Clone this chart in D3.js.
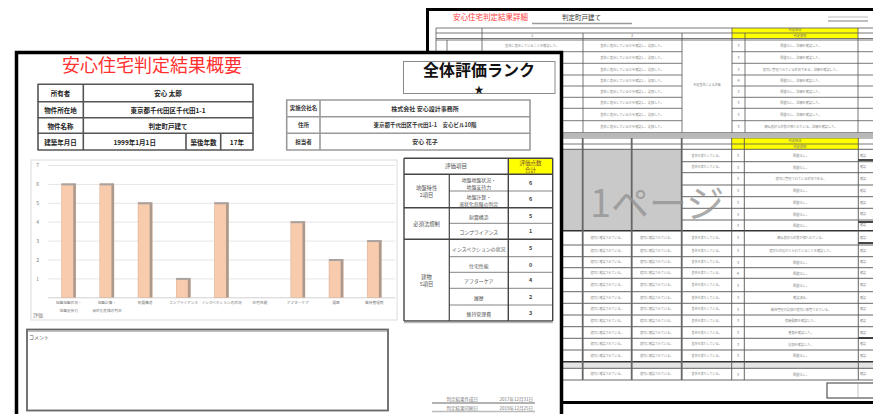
<!DOCTYPE html>
<html><head><meta charset="utf-8">
<script src="https://cdn.jsdelivr.net/npm/d3@7"></script>
<style>
html,body{margin:0;padding:0;background:#fff;}
svg{display:block;font-family:"Noto Sans CJK JP","Noto Sans",sans-serif;}
</style></head><body>
<svg id="c" width="873" height="414"></svg>
<script>
// ---------------- data ----------------
const title = "安心住宅判定結果概要";
const rankTitle = "全体評価ランク";
const rankValue = "★";
const categories = ["地盤地盤状況・\n地盤支持力", "地盤計算・\n液状化危険の判定", "耐震構造", "コンプライアンス", "インスペクションの状況", "住宅性能", "アフターケア", "履歴", "維持管理費"];
const values = [6, 6, 5, 1, 5, 0, 4, 2, 3];
const yTicks = [0, 1, 2, 3, 4, 5, 6, 7];
const yTickLabels = ["", "1", "2", "3", "4", "5", "6", "7"];
const axisTitle = "評価";
const groupNames = ["地盤特性\n2項目", "必須法規制", "建物\n5項目"];
const groupSizes = [2, 2, 5];
const tableHeader = "評価項目";
const scoreHeader = "評価点数\n合計";
const ownerLabels = ["所有者", "物件所在地", "物件名称", "建築年月日"];
const ownerValues = ["安心 太郎", "東京都千代田区千代田1-1", "判定町戸建て", "1999年1月1日"];
const ageLabel = "築後年数";
const ageValue = "17年";
const companyLabels = ["実施会社名", "住所", "担当者"];
const companyValues = ["株式会社 安心設計事務所", "東京都千代田区千代田1-1　安心ビル10階", "安心 花子"];
const commentLabel = "コメント";
const dateLabels = ["判定結果作成日", "判定結果印刷日"];
const dateValues = ["2017年12月31日", "2019年12月25日"];
const detailTitle = "安心住宅判定結果詳細";
const detailSub = "判定町戸建て";
const watermark = "1ページ";
const detailScores = [3, 3, 3, 4, 3, 3, 3, 3];
const detailScores2 = [3, 3, 3, 3, 3, 3, 3, 3, 3, 3, 4, 3, 3, 3, 3, 3, 3];
const detailNotes = ["問題なし。", "問題なし。", "適切に管理されている状況である。", "問題なし。", "問題なし。", "問題なし。", "問題なし。",
  "概ね良好な状態が保たれている。", "適切な対応がとられていることを確認した。", "問題なし。", "問題なし。", "問題なし。", "確認済み。",
  "維持管理の記録が適切に保管されている。", "修繕履歴を確認した。", "書類を確認した。", "記録を確認した。"];

// ---------------- drawing ----------------
const svg = d3.select("#c");
const F = "Noto Sans CJK JP";

function multiText(g, str, x, y, size, lh, attrs) {
  const lines = str.split("\n");
  const t = g.append("text").attr("x", x).attr("y", y - (lines.length - 1) * lh / 2)
    .attr("font-size", size).attr("text-anchor", "middle").attr("dominant-baseline", "central");
  Object.entries(attrs || {}).forEach(([k, v]) => t.attr(k, v));
  lines.forEach((l, i) => t.append("tspan").attr("x", x).attr("dy", i === 0 ? 0 : lh).text(l));
  return t;
}
function line(g, x1, y1, x2, y2, c, w) {
  g.append("line").attr("x1", x1).attr("y1", y1).attr("x2", x2).attr("y2", y2).attr("stroke", c).attr("stroke-width", w);
}

// ===== back document =====
const back = svg.append("g");
back.append("rect").attr("x", 427.5).attr("y", 9.5).attr("width", 470).attr("height", 393).attr("fill", "#fff").attr("stroke", "#000").attr("stroke-width", 3);
back.append("text").attr("x", 453).attr("y", 20).attr("font-size", 7.5).attr("fill", "#ff3b3b").text(detailTitle);
back.append("text").attr("x", 562).attr("y", 20).attr("font-size", 6.5).attr("fill", "#333").text(detailSub);
line(back, 532, 23.5, 632, 23.5, "#9a9a9a", 1.5);
line(back, 828, 17, 868, 17, "#aaa", 0.8);
line(back, 828, 21, 868, 21, "#aaa", 1.5);

// upper table
const UC = [436, 447, 482, 583, 682, 732, 745, 858, 880];
const UR = [40, 51.7, 63.3, 75, 86, 97.3, 108.3, 120.7, 132.7];
back.append("rect").attr("x", 732).attr("y", 28).attr("width", 126).attr("height", 10.5).attr("fill", "#ffff00");
[28, 33, 38.5].forEach(y => line(back, 436, y, 880, y, "#555", 0.8));
UR.forEach((y, i) => {
  line(back, 436, y, 682, y, "#555", 0.8);
  line(back, 732, y, 880, y, "#555", 0.8);
});
line(back, 682, 40, 732, 40, "#555", 0.8);
line(back, 682, 132.7, 732, 132.7, "#555", 0.8);
UC.forEach((x, i) => {
  if (i === 1) { line(back, x, 40, x, 132.7, "#555", 0.8); return; }
  line(back, x, i === 0 || i === 2 || i === 5 || i === 7 ? 28 : 33, x, 132.7, "#555", 0.8);
});
back.append("rect").attr("x", 436).attr("y", 133).attr("width", 444).attr("height", 4).attr("fill", "#b8b8b8");
back.append("text").attr("x", 532).attr("y", 36.5).attr("font-size", 4).attr("fill", "#777").attr("text-anchor", "middle").text("1");
back.append("text").attr("x", 632).attr("y", 36.5).attr("font-size", 4).attr("fill", "#777").attr("text-anchor", "middle").text("2");
back.append("text").attr("x", 795).attr("y", 31).attr("font-size", 3.3).attr("fill", "#777").attr("text-anchor", "middle").text("判定結果");
back.append("text").attr("x", 800).attr("y", 36.5).attr("font-size", 3.3).attr("fill", "#777").attr("text-anchor", "middle").text("判定根拠");
for (let i = 0; i < UR.length - 1; i++) {
  const cy = (UR[i] + UR[i + 1]) / 2;
  back.append("text").attr("x", 738.5).attr("y", cy).attr("font-size", 3.5).attr("fill", "#666").attr("text-anchor", "middle").attr("dominant-baseline", "central").text(detailScores[i]);
  back.append("text").attr("x", 801).attr("y", cy).attr("font-size", 3.2).attr("fill", "#888").attr("text-anchor", "middle").attr("dominant-baseline", "central").text(detailNotes[i] + "詳細を確認した。");
  back.append("text").attr("x", 632).attr("y", cy).attr("font-size", 3.2).attr("fill", "#888").attr("text-anchor", "middle").attr("dominant-baseline", "central").text("基準に適合しているかを確認し、記録した。");
  if (i === 0) {
    back.append("text").attr("x", 532).attr("y", cy).attr("font-size", 3.2).attr("fill", "#888").attr("text-anchor", "middle").attr("dominant-baseline", "central").text("基準に適合していることを確認した。");
  }
}
back.append("text").attr("x", 707).attr("y", 86).attr("font-size", 3).attr("fill", "#888").attr("text-anchor", "middle").text("判定基準による評価");

// lower table
const LC = [436, 520, 582.7, 631.7, 681.7, 731.7, 744.3, 858.3, 880];
const LR = [149.3, 161.7, 172.7, 185, 196.7, 208.3, 220, 230.7, 245, 256.7, 267.7, 278.3, 291.7, 303.3, 315, 326.7, 338.3, 350, 361.7, 368.3, 380];
back.append("rect").attr("x", 731.7).attr("y", 138).attr("width", 126.6).attr("height", 11.3).attr("fill", "#ffff00");
back.append("rect").attr("x", 436).attr("y", 149.3).attr("width", 245.7).attr("height", 81.4).attr("fill", "#c9c9c9");
back.append("rect").attr("x", 436).attr("y", 361.7).attr("width", 444).attr("height", 6.6).attr("fill", "#e4e4e4");
[138, 144].forEach(y => line(back, 436, y, 880, y, "#555", 0.8));
LR.forEach((y, i) => {
  const inGrey = i > 0 && i < 7;
  line(back, inGrey ? 681.7 : 436, y, 880, y, i === 7 || i === 18 ? "#333" : "#555", i === 7 || i === 18 ? 1.6 : 0.9);
});
LC.forEach((x, i) => line(back, x, 138, x, 380, i >= 2 && i <= 4 ? "#666" : "#555", i >= 2 && i <= 4 ? 1.8 : 0.9));
back.append("text").attr("x", 795).attr("y", 142).attr("font-size", 3.3).attr("fill", "#777").attr("text-anchor", "middle").text("判定結果");
back.append("text").attr("x", 800).attr("y", 147.5).attr("font-size", 3.3).attr("fill", "#777").attr("text-anchor", "middle").text("判定根拠");
let k = 0;
for (let i = 0; i < LR.length - 1; i++) {
  if (i === 18) continue;
  const cy = (LR[i] + LR[i + 1]) / 2;
  back.append("text").attr("x", 738).attr("y", cy).attr("font-size", 3.5).attr("fill", "#666").attr("text-anchor", "middle").attr("dominant-baseline", "central").text(detailScores2[k % detailScores2.length]);
  back.append("text").attr("x", 801).attr("y", cy).attr("font-size", 3.2).attr("fill", "#888").attr("text-anchor", "middle").attr("dominant-baseline", "central").text(detailNotes[k % detailNotes.length]);
  if (i < 2 || i > 6) {
    back.append("text").attr("x", 706.5).attr("y", cy).attr("font-size", 3).attr("fill", "#888").attr("text-anchor", "middle").attr("dominant-baseline", "central").text("基準を満たしている。");
  }
  if (i >= 7) {
    back.append("text").attr("x", 607).attr("y", cy).attr("font-size", 3).attr("fill", "#888").attr("text-anchor", "middle").attr("dominant-baseline", "central").text("適切に確認されている。");
    back.append("text").attr("x", 656.5).attr("y", cy).attr("font-size", 3).attr("fill", "#888").attr("text-anchor", "middle").attr("dominant-baseline", "central").text("適切に確認されている。");
  }
  back.append("text").attr("x", 860).attr("y", cy).attr("font-size", 3).attr("fill", "#888").attr("dominant-baseline", "central").text("確認");
  k++;
}
[160, 222, 243, 338].forEach(y => line(back, 858.3, y, 873, y, "#333", 1.8));
back.append("rect").attr("x", 827).attr("y", 383).attr("width", 50).attr("height", 15).attr("fill", "#fff").attr("stroke", "#555").attr("stroke-width", 1.2);
line(back, 858, 383, 858, 398, "#999", 0.6);
back.append("text").attr("x", 590).attr("y", 217).attr("font-size", 38).attr("fill", "#909090").attr("fill-opacity", 0.75).text(watermark);

// ===== front document =====
const front = svg.append("g");
front.append("rect").attr("x", 16.5).attr("y", 52.5).attr("width", 545).attr("height", 380).attr("fill", "#fff").attr("stroke", "#000").attr("stroke-width", 3.5);
front.append("text").attr("x", 62).attr("y", 72).attr("font-size", 18).attr("fill", "#ff3030").text(title);

// rank box
front.append("rect").attr("x", 403.5).attr("y", 61.5).attr("width", 151.5).attr("height", 32).attr("fill", "#fff").attr("stroke", "#8a8a8a").attr("stroke-width", 1);
front.append("text").attr("x", 479).attr("y", 69).attr("font-size", 16).attr("font-weight", "bold").attr("text-anchor", "middle").attr("dominant-baseline", "central").attr("fill", "#111").text(rankTitle);
front.append("text").attr("x", 479).attr("y", 88.5).attr("font-size", 9.5).attr("text-anchor", "middle").attr("dominant-baseline", "central").attr("fill", "#111").text(rankValue);

// owner table
const oR = [84.3, 101.7, 117.7, 133.3, 150];
ownerLabels.forEach((l, i) => {
  const cy = (oR[i] + oR[i + 1]) / 2;
  front.append("text").attr("x", 60.6).attr("y", cy).attr("font-size", 6.5).attr("font-weight", "bold").attr("text-anchor", "middle").attr("dominant-baseline", "central").attr("fill", "#222").text(l);
  const vx = i === 3 ? 134.7 : 168;
  front.append("text").attr("x", vx).attr("y", cy).attr("font-size", 6.5).attr("font-weight", "bold").attr("text-anchor", "middle").attr("dominant-baseline", "central").attr("fill", "#222").text(ownerValues[i]);
});
front.append("text").attr("x", 203.4).attr("y", 141.6).attr("font-size", 6.5).attr("font-weight", "bold").attr("text-anchor", "middle").attr("dominant-baseline", "central").attr("fill", "#222").text(ageLabel);
front.append("text").attr("x", 236.9).attr("y", 141.6).attr("font-size", 6.5).attr("font-weight", "bold").attr("text-anchor", "middle").attr("dominant-baseline", "central").attr("fill", "#222").text(ageValue);
oR.forEach(y => line(front, 37.5, y, 253.5, y, "#555", 1.6));
[38, 83.3, 253].forEach(x => line(front, x, 84.3, x, 150, "#555", 1.6));
[186, 220.7].forEach(x => line(front, x, 133.3, x, 150, "#555", 1.6));

// company table
const cR = [100, 116.7, 133.3, 150];
companyLabels.forEach((l, i) => {
  const cy = (cR[i] + cR[i + 1]) / 2;
  front.append("text").attr("x", 303.4).attr("y", cy).attr("font-size", 5.5).attr("font-weight", "bold").attr("text-anchor", "middle").attr("dominant-baseline", "central").attr("fill", "#333").text(l);
  front.append("text").attr("x", 425).attr("y", cy).attr("font-size", i === 1 ? 5.5 : 6).attr("font-weight", "bold").attr("text-anchor", "middle").attr("dominant-baseline", "central").attr("fill", "#333").text(companyValues[i]);
});
cR.forEach(y => line(front, 286, y, 530.5, y, "#9a9a9a", 1.6));
[286.7, 320, 530].forEach(x => line(front, x, 100, x, 150, "#9a9a9a", 1.6));

// ===== bar chart =====
const chart = front.append("g");
chart.append("rect").attr("x", 31).attr("y", 160).attr("width", 366).attr("height", 160).attr("fill", "#fff").attr("stroke", "#dcdcdc").attr("stroke-width", 1);
const x = d3.scaleBand().domain(categories).range([49.6, 393.4]).paddingInner(0.63).paddingOuter(0.315);
const y = d3.scaleLinear().domain([0, 7]).range([297.3, 165]);

const yAxis = chart.append("g").attr("transform", "translate(48,0)")
  .call(d3.axisLeft(y).tickValues(yTicks).tickSize(-347).tickFormat((d, i) => yTickLabels[i]));
yAxis.select(".domain").remove();
yAxis.selectAll(".tick line").attr("stroke", (d) => d === 0 ? "#d0d0d0" : "#e6e6e6").attr("stroke-width", 1);
yAxis.selectAll(".tick text").attr("x", -9).attr("font-size", 5).attr("fill", "#777").attr("font-family", F);

const bars = chart.selectAll("g.bar").data(values).join("g").attr("class", "bar");
bars.append("rect").attr("x", (d, i) => x(categories[i])).attr("y", d => y(d))
  .attr("width", x.bandwidth()).attr("height", d => y(0) - y(d)).attr("fill", "#f8cbad").attr("stroke", "#d9a98a").attr("stroke-width", 0.5);
bars.append("rect").attr("x", (d, i) => x(categories[i]) + x.bandwidth() - 2.5).attr("y", d => y(d))
  .attr("width", 2.5).attr("height", d => y(0) - y(d)).attr("fill", "#a39389").attr("fill-opacity", d => d > 0 ? 0.9 : 0);
bars.append("rect").attr("x", (d, i) => x(categories[i])).attr("y", d => y(d) - 0.5)
  .attr("width", x.bandwidth()).attr("height", d => d > 0 ? 2 : 0).attr("fill", "#a8a2a0");

const xAxis = chart.append("g").attr("transform", "translate(0,297.3)")
  .call(d3.axisBottom(x).tickSize(0).tickFormat(""));
xAxis.select(".domain").remove();
xAxis.selectAll(".tick").each(function (d) {
  const lines = d.split("\n");
  const t = d3.select(this).append("text").attr("y", 4).attr("font-size", 3.7).attr("fill", "#777").attr("text-anchor", "middle").attr("font-family", F);
  lines.forEach((l, i) => t.append("tspan").attr("x", 0).attr("dy", i === 0 ? "0.8em" : "2.2em").text(l));
});
chart.append("text").attr("x", 33).attr("y", 317).attr("font-size", 5).attr("fill", "#777").text(axisTitle);

// ===== score table =====
const tb = front.append("g");
const TR = [158.3, 174.3, 191, 207.7, 223.3, 239.3, 256.7, 272.3, 288.3, 305, 321];
tb.append("rect").attr("x", 404).attr("y", 158.3).attr("width", 148.7).attr("height", 162.7).attr("fill", "#fff");
tb.append("rect").attr("x", 508.3).attr("y", 158.3).attr("width", 44.4).attr("height", 16).attr("fill", "#ffff00");
multiText(tb, tableHeader, 456, 166.3, 5.5, 6, { fill: "#555" });
multiText(tb, scoreHeader, 530.5, 166.3, 5.5, 7, { fill: "#7a4a3a" });
categories.forEach((c, i) => {
  const cy = (TR[i + 1] + TR[i + 2]) / 2;
  multiText(tb, c, 478.8, cy, 4.9, 6.5, { fill: "#555" });
  multiText(tb, String(values[i]), 530.5, cy, 5.5, 6, { fill: "#444", "font-weight": "bold" });
});
let start = 0;
const groupBounds = [1];
groupSizes.forEach((s, gi) => {
  const y0 = TR[1 + start], y1 = TR[1 + start + s];
  multiText(tb, groupNames[gi], 426.6, (y0 + y1) / 2, 5.3, 7, { fill: "#555" });
  start += s;
  groupBounds.push(1 + start);
});
TR.forEach((yy, i) => {
  const isG = groupBounds.includes(i) || i === 0;
  line(tb, isG ? 404 : 449.3, yy, 552.7, yy, isG ? "#444" : "#666", isG ? 1.5 : 0.8);
});
[404, 508.3, 552.7].forEach(xx => line(tb, xx, 158.3, xx, 321, "#444", 1.4));
line(tb, 449.3, 174.3, 449.3, 321, "#444", 1.2);
line(tb, 404, 322.5, 553, 322.5, "#bbb", 1.5);

// ===== comment box =====
front.append("rect").attr("x", 27).attr("y", 329.5).attr("width", 361).attr("height", 81).attr("fill", "#fff").attr("stroke", "#666").attr("stroke-width", 1.8);
line(front, 28, 331, 387, 331, "#aaa", 1.5);
front.append("text").attr("x", 29).attr("y", 336).attr("font-size", 5).attr("fill", "#555").attr("dominant-baseline", "central").text(commentLabel);

// ===== dates =====
dateLabels.forEach((l, i) => {
  const yy = 399 + i * 8.5;
  front.append("text").attr("x", 478).attr("y", yy).attr("font-size", 4.5).attr("fill", "#777").attr("text-anchor", "end").attr("dominant-baseline", "central").text(l);
  front.append("text").attr("x", 533).attr("y", yy).attr("font-size", 4.5).attr("fill", "#777").attr("text-anchor", "end").attr("dominant-baseline", "central").text(dateValues[i]);
  line(front, 432, yy + 4, 535, yy + 4, i === 0 ? "#999" : "#bbb", 1.5);
});
</script>
</body></html>
